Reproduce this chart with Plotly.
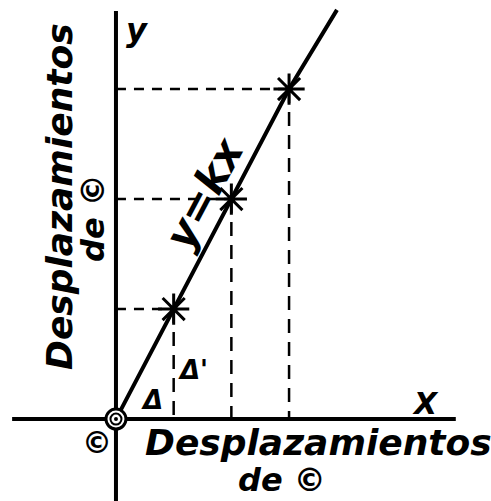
"""
Hand-drawn sketch: y = kx, displacements of C
"""
import plotly.graph_objects as go

# points marked on the line (data units)
pts_x = [1, 2, 3]
pts_y = [1, 2, 3]

# the straight line from the origin, through the points, to its top end
line_x = [0, 1, 2, 3, 3.83]
line_y = [0, 1, 2, 3, 3.72]

# axes extents
xaxis_x = [-1.80, 5.89]
yaxis_y = [-0.76, 3.71]

ink = 'black'
hand = dict(family='DejaVu Sans', color=ink, style='italic', weight='bold')

fig = go.Figure()

# axes
fig.add_trace(go.Scatter(x=xaxis_x, y=[0, 0], mode='lines',
                         line=dict(color=ink, width=4)))
fig.add_trace(go.Scatter(x=[0, 0], y=yaxis_y, mode='lines',
                         line=dict(color=ink, width=4)))

# dashed projections to both axes
for px, py in zip(pts_x, pts_y):
    fig.add_trace(go.Scatter(x=[0, px], y=[py, py], mode='lines',
                             line=dict(color=ink, width=2.5, dash='10px,8px')))
    fig.add_trace(go.Scatter(x=[px, px], y=[py, 0], mode='lines',
                             line=dict(color=ink, width=2.5, dash='14px,9px')))

# main line
fig.add_trace(go.Scatter(x=line_x, y=line_y, mode='lines',
                         line=dict(color=ink, width=4)))

# star marks
fig.add_trace(go.Scatter(x=pts_x, y=pts_y, mode='markers',
                         marker=dict(symbol='asterisk-open', size=26, color=ink,
                                     line=dict(color=ink, width=3))))

# origin: ring with a dot
fig.add_trace(go.Scatter(x=[0], y=[0], mode='markers',
                         marker=dict(symbol='circle', size=20, color='white',
                                     line=dict(color=ink, width=3))))
fig.add_trace(go.Scatter(x=[0], y=[0], mode='markers',
                         marker=dict(symbol='circle-open', size=11, color=ink,
                                     line=dict(color=ink, width=2))))
fig.add_trace(go.Scatter(x=[0], y=[0], mode='markers',
                         marker=dict(symbol='circle', size=4, color=ink)))

notes = [
    dict(x=137, y=30, text='y', size=32, angle=0),
    dict(x=425, y=403, text='X', size=30, angle=0),
    dict(x=205, y=193, text='y=kx', size=42, angle=-62),
    dict(x=152, y=400, text='Δ', size=26, angle=0),
    dict(x=193, y=370, text="Δ'", size=26, angle=0),
    dict(x=97, y=442, text='©', size=30, angle=0),
    dict(x=318, y=442, text='Desplazamientos', size=36, angle=0),
    dict(x=282, y=480, text='de ©', size=32, angle=0),
    dict(x=60, y=197, text='Desplazamientos', size=36, angle=-90),
    dict(x=93, y=218, text='de ©', size=32, angle=-90),
]
for n in notes:
    fig.add_annotation(x=n['x'] / 491, y=1 - n['y'] / 501, xref='paper', yref='paper',
                       text=n['text'], showarrow=False, textangle=n['angle'],
                       xanchor='center', yanchor='middle',
                       font=dict(size=n['size'], **hand))

fig.update_layout(
    width=491, height=501,
    margin=dict(l=0, r=0, t=0, b=0),
    paper_bgcolor='white', plot_bgcolor='white',
    showlegend=False,
    xaxis=dict(range=[-2.01, 6.50], visible=False, fixedrange=True),
    yaxis=dict(range=[-0.745, 3.81], visible=False, fixedrange=True),
)

fig.write_html("out.html", config={'displayModeBar': False},
               post_script="document.body.style.margin='0';")
